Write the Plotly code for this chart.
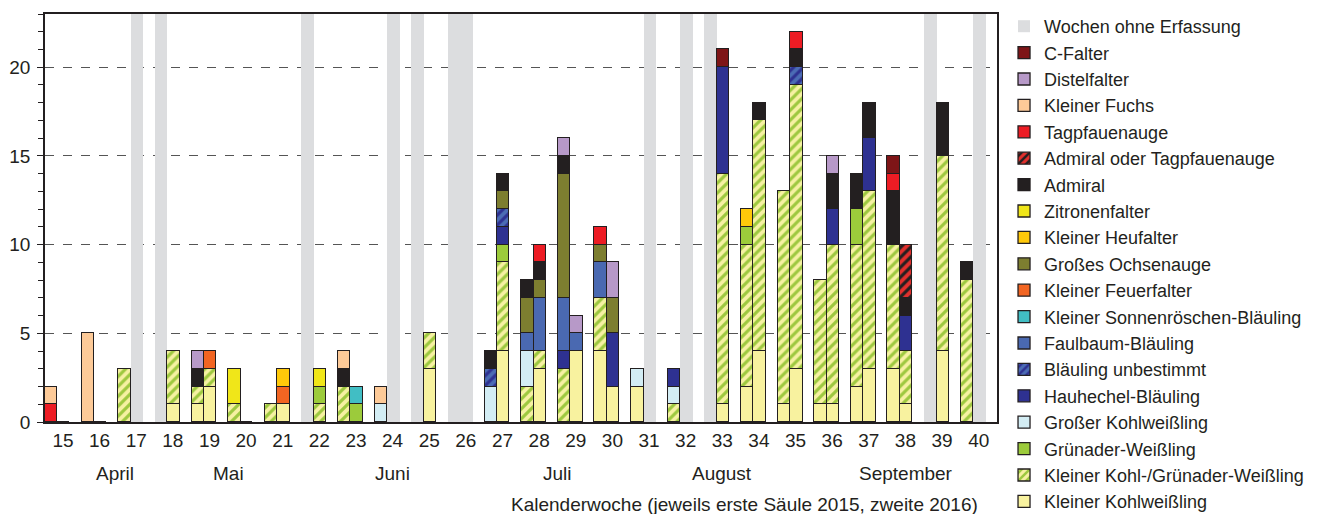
import plotly.graph_objects as go

# Kalenderwochen 15..40
weeks = list(range(15, 41))

# Wochen ohne Erfassung
missing_2015 = [18, 22, 25, 26, 33, 39]
missing_2016 = [17, 24, 26, 31, 32, 40]

#                       15 16 17 18 19 20 21 22 23 24 25 26 27 28 29 30 31 32 33 34 35 36 37 38 39 40
kl_kohlweissling_2015 = [0, 0, 0, 0, 1, 0, 0, 0, 0, 0, 0, 0, 0, 0, 0, 4, 2, 0, 0, 2, 1, 1, 2, 3, 0, 0]
kl_kohlweissling_2016 = [0, 0, 0, 1, 2, 0, 1, 0, 0, 0, 3, 0, 4, 3, 4, 2, 0, 0, 1, 4, 3, 1, 3, 1, 4, 0]
kl_kohl_gruen_2015 =    [0, 0, 3, 0, 1, 1, 1, 0, 2, 0, 0, 0, 0, 2, 3, 3, 0, 1, 0, 8, 12, 7, 8, 7, 0, 8]
kl_kohl_gruen_2016 =    [0, 0, 0, 3, 1, 0, 0, 1, 0, 0, 2, 0, 5, 1, 0, 0, 0, 0, 13, 13, 16, 9, 10, 3, 11, 0]
gruenader_2015 =        [0, 0, 0, 0, 0, 0, 0, 0, 0, 0, 0, 0, 0, 0, 0, 0, 0, 0, 0, 1, 0, 0, 2, 0, 0, 0]
gruenader_2016 =        [0, 0, 0, 0, 0, 0, 0, 1, 1, 0, 0, 0, 1, 0, 0, 0, 0, 0, 0, 0, 0, 0, 0, 0, 0, 0]
gr_kohlweissling_2015 = [0, 0, 0, 0, 0, 0, 0, 0, 0, 1, 0, 0, 2, 2, 0, 0, 1, 1, 0, 0, 0, 0, 0, 0, 0, 0]
gr_kohlweissling_2016 = [0, 0, 0, 0, 0, 0, 0, 0, 0, 0, 0, 0, 0, 0, 0, 0, 0, 0, 0, 0, 0, 0, 0, 0, 0, 0]
hauhechel_2015 =        [0, 0, 0, 0, 0, 0, 0, 0, 0, 0, 0, 0, 0, 0, 1, 0, 0, 1, 0, 0, 0, 0, 0, 0, 0, 0]
hauhechel_2016 =        [0, 0, 0, 0, 0, 0, 0, 0, 0, 0, 0, 0, 1, 0, 0, 3, 0, 0, 6, 0, 0, 2, 3, 2, 0, 0]
blaeuling_unb_2015 =    [0, 0, 0, 0, 0, 0, 0, 0, 0, 0, 0, 0, 1, 0, 0, 0, 0, 0, 0, 0, 0, 0, 0, 0, 0, 0]
blaeuling_unb_2016 =    [0, 0, 0, 0, 0, 0, 0, 0, 0, 0, 0, 0, 1, 0, 0, 0, 0, 0, 0, 0, 1, 0, 0, 0, 0, 0]
faulbaum_2015 =         [0, 0, 0, 0, 0, 0, 0, 0, 0, 0, 0, 0, 0, 1, 3, 2, 0, 0, 0, 0, 0, 0, 0, 0, 0, 0]
faulbaum_2016 =         [0, 0, 0, 0, 0, 0, 0, 0, 0, 0, 0, 0, 0, 3, 1, 0, 0, 0, 0, 0, 0, 0, 0, 0, 0, 0]
sonnenroeschen_2015 =   [0, 0, 0, 0, 0, 0, 0, 0, 0, 0, 0, 0, 0, 0, 0, 0, 0, 0, 0, 0, 0, 0, 0, 0, 0, 0]
sonnenroeschen_2016 =   [0, 0, 0, 0, 0, 0, 0, 0, 1, 0, 0, 0, 0, 0, 0, 0, 0, 0, 0, 0, 0, 0, 0, 0, 0, 0]
feuerfalter_2015 =      [0, 0, 0, 0, 0, 0, 0, 0, 0, 0, 0, 0, 0, 0, 0, 0, 0, 0, 0, 0, 0, 0, 0, 0, 0, 0]
feuerfalter_2016 =      [0, 0, 0, 0, 1, 0, 1, 0, 0, 0, 0, 0, 0, 0, 0, 0, 0, 0, 0, 0, 0, 0, 0, 0, 0, 0]
ochsenauge_2015 =       [0, 0, 0, 0, 0, 0, 0, 0, 0, 0, 0, 0, 0, 2, 7, 1, 0, 0, 0, 0, 0, 0, 0, 0, 0, 0]
ochsenauge_2016 =       [0, 0, 0, 0, 0, 0, 0, 0, 0, 0, 0, 0, 1, 1, 0, 2, 0, 0, 0, 0, 0, 0, 0, 0, 0, 0]
heufalter_2015 =        [0, 0, 0, 0, 0, 0, 0, 0, 0, 0, 0, 0, 0, 0, 0, 0, 0, 0, 0, 1, 0, 0, 0, 0, 0, 0]
heufalter_2016 =        [0, 0, 0, 0, 0, 0, 1, 0, 0, 0, 0, 0, 0, 0, 0, 0, 0, 0, 0, 0, 0, 0, 0, 0, 0, 0]
zitronenfalter_2015 =   [0, 0, 0, 0, 0, 2, 0, 0, 0, 0, 0, 0, 0, 0, 0, 0, 0, 0, 0, 0, 0, 0, 0, 0, 0, 0]
zitronenfalter_2016 =   [0, 0, 0, 0, 0, 0, 0, 1, 0, 0, 0, 0, 0, 0, 0, 0, 0, 0, 0, 0, 0, 0, 0, 0, 0, 0]
admiral_2015 =          [0, 0, 0, 0, 1, 0, 0, 0, 1, 0, 0, 0, 1, 1, 1, 0, 0, 0, 0, 0, 0, 0, 2, 3, 0, 1]
admiral_2016 =          [0, 0, 0, 0, 0, 0, 0, 0, 0, 0, 0, 0, 1, 1, 0, 0, 0, 0, 0, 1, 1, 2, 2, 1, 3, 0]
admiral_o_tpa_2015 =    [0, 0, 0, 0, 0, 0, 0, 0, 0, 0, 0, 0, 0, 0, 0, 0, 0, 0, 0, 0, 0, 0, 0, 0, 0, 0]
admiral_o_tpa_2016 =    [0, 0, 0, 0, 0, 0, 0, 0, 0, 0, 0, 0, 0, 0, 0, 0, 0, 0, 0, 0, 0, 0, 0, 3, 0, 0]
tagpfauenauge_2015 =    [1, 0, 0, 0, 0, 0, 0, 0, 0, 0, 0, 0, 0, 0, 0, 1, 0, 0, 0, 0, 0, 0, 0, 1, 0, 0]
tagpfauenauge_2016 =    [0, 0, 0, 0, 0, 0, 0, 0, 0, 0, 0, 0, 0, 1, 0, 0, 0, 0, 0, 0, 1, 0, 0, 0, 0, 0]
kl_fuchs_2015 =         [1, 5, 0, 0, 0, 0, 0, 0, 1, 1, 0, 0, 0, 0, 0, 0, 0, 0, 0, 0, 0, 0, 0, 0, 0, 0]
kl_fuchs_2016 =         [0, 0, 0, 0, 0, 0, 0, 0, 0, 0, 0, 0, 0, 0, 0, 0, 0, 0, 0, 0, 0, 0, 0, 0, 0, 0]
distelfalter_2015 =     [0, 0, 0, 0, 1, 0, 0, 0, 0, 0, 0, 0, 0, 0, 1, 0, 0, 0, 0, 0, 0, 0, 0, 0, 0, 0]
distelfalter_2016 =     [0, 0, 0, 0, 0, 0, 0, 0, 0, 0, 0, 0, 0, 0, 1, 2, 0, 0, 0, 0, 0, 1, 0, 0, 0, 0]
c_falter_2015 =         [0, 0, 0, 0, 0, 0, 0, 0, 0, 0, 0, 0, 0, 0, 0, 0, 0, 0, 0, 0, 0, 0, 0, 1, 0, 0]
c_falter_2016 =         [0, 0, 0, 0, 0, 0, 0, 0, 0, 0, 0, 0, 0, 0, 0, 0, 0, 0, 1, 0, 0, 0, 0, 0, 0, 0]

months = ["April", "Mai", "Juni", "Juli", "August", "September"]
month_pos = [16.58, 19.66, 24.16, 28.65, 33.15, 38.16]

FONT = "Liberation Sans, Arial, sans-serif"
INK = "#231f20"
Y_TOP = 23
BW = 0.34  # Säulenbreite in Wochen

# Stapelreihenfolge von unten nach oben: (Name, 2015, 2016, Farbe, Muster-Farbe)
species = [
    ("Kleiner Kohlweißling", kl_kohlweissling_2015, kl_kohlweissling_2016, "#f8f29f", None),
    ("Kleiner Kohl-/Grünader-Weißling", kl_kohl_gruen_2015, kl_kohl_gruen_2016, "#f6f1a2", "#9dc83f"),
    ("Grünader-Weißling", gruenader_2015, gruenader_2016, "#9ccb3b", None),
    ("Großer Kohlweißling", gr_kohlweissling_2015, gr_kohlweissling_2016, "#d3edf4", None),
    ("Hauhechel-Bläuling", hauhechel_2015, hauhechel_2016, "#2e3191", None),
    ("Bläuling unbestimmt", blaeuling_unb_2015, blaeuling_unb_2016, "#4b6cb4", "#2e3191"),
    ("Faulbaum-Bläuling", faulbaum_2015, faulbaum_2016, "#4a69b1", None),
    ("Kleiner Sonnenröschen-Bläuling", sonnenroeschen_2015, sonnenroeschen_2016, "#41bec4", None),
    ("Kleiner Feuerfalter", feuerfalter_2015, feuerfalter_2016, "#f26522", None),
    ("Großes Ochsenauge", ochsenauge_2015, ochsenauge_2016, "#7d7e30", None),
    ("Kleiner Heufalter", heufalter_2015, heufalter_2016, "#ffc90a", None),
    ("Zitronenfalter", zitronenfalter_2015, zitronenfalter_2016, "#f0e619", None),
    ("Admiral", admiral_2015, admiral_2016, "#231f20", None),
    ("Admiral oder Tagpfauenauge", admiral_o_tpa_2015, admiral_o_tpa_2016, "#e2302d", "#231f20"),
    ("Tagpfauenauge", tagpfauenauge_2015, tagpfauenauge_2016, "#ed1c24", None),
    ("Kleiner Fuchs", kl_fuchs_2015, kl_fuchs_2016, "#fdca98", None),
    ("Distelfalter", distelfalter_2015, distelfalter_2016, "#b799c8", None),
    ("C-Falter", c_falter_2015, c_falter_2016, "#7e1517", None),
]

x15 = [w - BW / 2 for w in weeks]
x16 = [w + BW / 2 for w in weeks]

fig = go.Figure()

# graue Säulen: Wochen ohne Erfassung
gx = [w - BW / 2 for w in missing_2015] + [w + BW / 2 for w in missing_2016]
fig.add_trace(go.Bar(
    x=gx, y=[Y_TOP] * len(gx), width=BW,
    name="Wochen ohne Erfassung", legendgroup="grey", legendrank=1,
    marker=dict(color="#dcdddf", line=dict(width=0)),
    hoverinfo="skip",
))

n = len(species)
for i, (name, v15, v16, col, hatch) in enumerate(species):
    marker = dict(color=col, line=dict(color=INK, width=1.3))
    if hatch:
        marker["pattern"] = dict(shape="/", fgcolor=hatch, bgcolor=col,
                                 size=7, solidity=0.45, fillmode="replace")
    fig.add_trace(go.Bar(
        x=x15 + x16, y=v15 + v16, width=BW,
        name=name, legendgroup=name, legendrank=n + 1 - i,
        marker=marker,
    ))

for m, p in zip(months, month_pos):
    fig.add_annotation(x=p, y=-0.127, xref="x", yref="paper", text=m,
                       xanchor="center", yanchor="middle", showarrow=False,
                       font=dict(size=19, color=INK, family=FONT))

fig.add_annotation(x=0.735, y=-0.202, xref="paper", yref="paper",
                   text="Kalenderwoche (jeweils erste Säule 2015, zweite 2016)",
                   xanchor="center", yanchor="middle", showarrow=False,
                   font=dict(size=19, color=INK, family=FONT))

# Seite hat 8px Rand -> Figur etwas kleiner
fig.update_layout(
    width=1309, height=506,
    margin=dict(l=37, r=320, t=4, b=92),
    barmode="stack", bargap=0,
    plot_bgcolor="white", paper_bgcolor="white",
    font=dict(family=FONT, size=19, color=INK),
    legend=dict(xref="container", yref="container", x=0.7609, y=1.004,
                xanchor="left", yanchor="top",
                font=dict(size=18), tracegroupgap=0, maxheight=700,
                itemclick=False),
    showlegend=True,
)

fig.update_xaxes(
    range=[14.66, 40.65], tickvals=[w + 0.15 for w in weeks],
    ticktext=[str(w) for w in weeks], ticks="", showgrid=False, zeroline=False,
    showline=True, linecolor=INK, linewidth=1.5, mirror=True,
    tickfont=dict(size=19),
)
fig.update_yaxes(
    range=[0, Y_TOP], dtick=5, ticks="outside", ticklen=6, tickwidth=1.3,
    tickcolor=INK, showline=True, linecolor=INK, linewidth=1.5, mirror=True,
    showgrid=True, gridcolor="#555555", griddash="dash", gridwidth=1,
    zeroline=False, tickfont=dict(size=19), automargin=False, ticklabelstandoff=3,
    minor=dict(dtick=1, ticks="outside", ticklen=5, tickcolor=INK, tickwidth=1.2, showgrid=False),
)

fig.write_html("out.html")
